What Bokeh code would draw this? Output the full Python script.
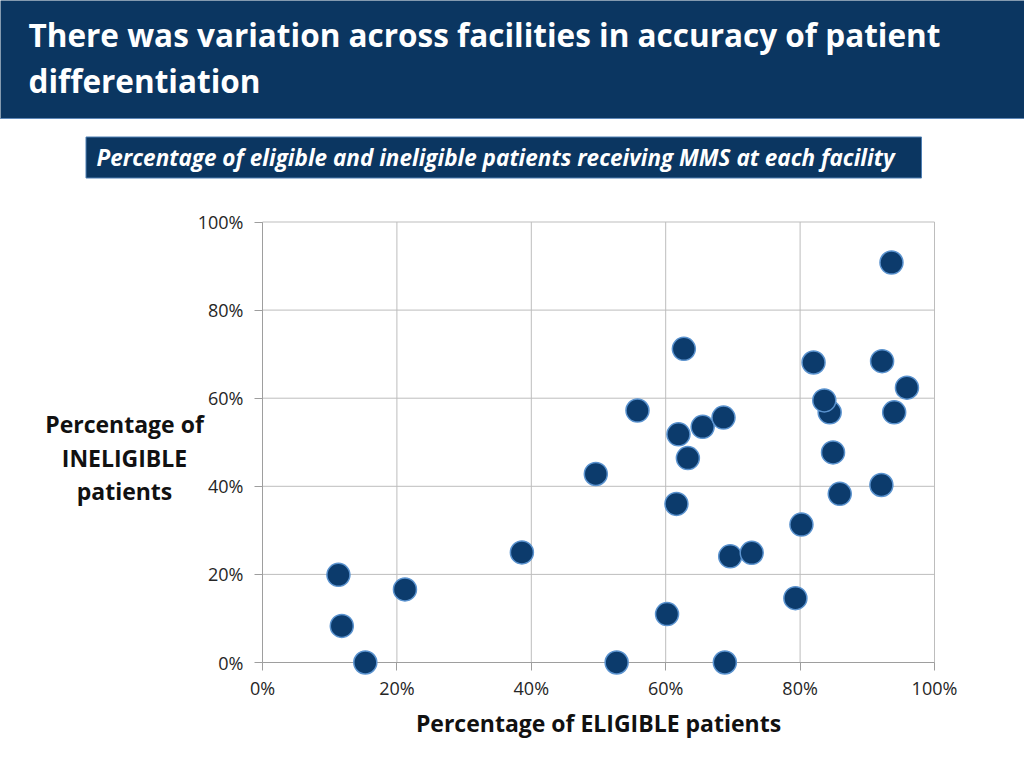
from bokeh.plotting import figure
from bokeh.models import Range1d, FixedTicker, PrintfTickFormatter
from bokeh.core.properties import value
from bokeh.embed import file_html
from bokeh.resources import INLINE

# ---- data: % of eligible (x) and ineligible (y) patients receiving MMS, per facility
eligible = [11.3, 11.8, 15.3, 21.2, 38.6, 49.6, 55.8, 52.7, 60.2, 61.6,
            61.9, 62.7, 63.3, 65.5, 68.6, 68.8, 69.6, 72.8, 79.3, 80.2,
            82.0, 84.4, 83.6, 84.9, 85.9, 92.2, 92.1, 93.6, 94.0, 95.9]
ineligible = [19.9, 8.3, 0.0, 16.6, 25.0, 42.8, 57.2, 0.0, 11.0, 36.0,
              51.8, 71.2, 46.4, 53.5, 55.6, 0.0, 24.1, 24.9, 14.6, 31.3,
              68.1, 56.8, 59.5, 47.7, 38.3, 68.4, 40.3, 90.8, 56.8, 62.4]
ticks = [0, 20, 40, 60, 80, 100]

title_lines = ["There was variation across facilities in accuracy of patient",
               "differentiation"]
subtitle = "Percentage of eligible and ineligible patients receiving MMS at each facility"
x_title = "Percentage of ELIGIBLE patients"
y_title_lines = ["Percentage of", "INELIGIBLE", "patients"]

NAVY = "#0b3661"
FONT = "Open Sans"
W, H = 1024, 768

# ---- layout: the plot area (0..100 %) sits at these canvas pixels
PX0, PX1 = 262.0, 934.0      # x = 0 %, 100 %
PY0, PY1 = 662.0, 221.5      # y = 0 %, 100 %
kx = (PX1 - PX0) / 100.0
ky = (PY0 - PY1) / 100.0


def fx(px):
    return (px - PX0) / kx


def fy(py):
    return (PY0 - py) / ky


def fyt(py, size):
    # baseline position for text glyphs (compensate renderer's baseline offset)
    return fy(py - 0.4 * size)


p = figure(width=W, height=H,
           x_range=Range1d(fx(0), fx(W)), y_range=Range1d(fy(H), fy(0)),
           output_backend="svg", toolbar_location=None,
           min_border=0, min_border_left=0, min_border_right=0,
           min_border_top=0, min_border_bottom=0)
p.title.visible = False
p.outline_line_color = None
p.background_fill_color = "white"
p.grid.visible = False

# ---- header band and subtitle box
p.quad(left=[fx(-10)], right=[fx(W + 10)], top=[fy(-10)], bottom=[fy(118.5)],
       fill_color=NAVY, line_color=None)
p.segment(x0=[fx(-10)], y0=[fy(118)], x1=[fx(W + 10)], y1=[fy(118)],
          line_color="#5f88b8", line_width=1)
p.quad(left=[fx(85.5)], right=[fx(921)], top=[fy(136.5)], bottom=[fy(177.5)],
       fill_color=NAVY, line_color="#4f7fb3", line_width=1)
p.text(x=[fx(28), fx(28)], y=[fyt(47, 31.5), fyt(93, 31.5)], text=title_lines,
       text_color="white", text_font=value(FONT), text_font_style="bold",
       text_font_size="31.5px", text_baseline="alphabetic", text_align="left")
p.text(x=[fx(96)], y=[fyt(166, 22.5)], text=[subtitle], text_color="white",
       text_font=value(FONT), text_font_style="bold italic", text_font_size="22.5px",
       text_baseline="alphabetic", text_align="left")

# ---- grid lines from the tick values
GRID = "#bdbdbd"
p.segment(x0=ticks, y0=[ticks[0]] * len(ticks), x1=ticks, y1=[ticks[-1]] * len(ticks),
          line_color=GRID, line_width=1)
p.segment(x0=[ticks[0]] * len(ticks), y0=ticks, x1=[ticks[-1]] * len(ticks), y1=ticks,
          line_color=GRID, line_width=1)

# ---- axes at the origin
for ax in (p.xaxis[0], p.yaxis[0]):
    ax.fixed_location = 0
    ax.bounds = (0, 100)
    ax.ticker = FixedTicker(ticks=ticks)
    ax.formatter = PrintfTickFormatter(format="%d%%")
    ax.axis_line_color = "#9e9e9e"
    ax.major_tick_line_color = "#9e9e9e"
    ax.major_tick_in = 0
    ax.major_tick_out = 8
    ax.minor_tick_line_color = None
    ax.major_label_text_font = FONT
    ax.major_label_text_font_size = "18px"
    ax.major_label_text_color = "#262626"

p.xaxis.major_label_standoff = 5
p.yaxis.major_label_standoff = 11
p.xaxis.axis_label = x_title
p.xaxis.axis_label_text_font = FONT
p.xaxis.axis_label_text_font_style = "bold"
p.xaxis.axis_label_text_font_size = "23px"
p.xaxis.axis_label_text_color = "#111111"
p.xaxis.axis_label_standoff = 4

# ---- y title (horizontal, three lines)
p.text(x=[fx(124)] * 3, y=[fyt(433, 23), fyt(467, 23), fyt(500, 23)], text=y_title_lines,
       text_color="#111111", text_font=value(FONT), text_font_style="bold",
       text_font_size="23px", text_baseline="alphabetic", text_align="center")

# ---- facilities
pts = p.scatter(eligible, ineligible, size=23, marker="circle",
                fill_color="#0c3b6c", line_color="#5b93cf", line_width=1.5)
pts.level = "annotation"

open("out.html", "w").write(file_html(p, INLINE))
